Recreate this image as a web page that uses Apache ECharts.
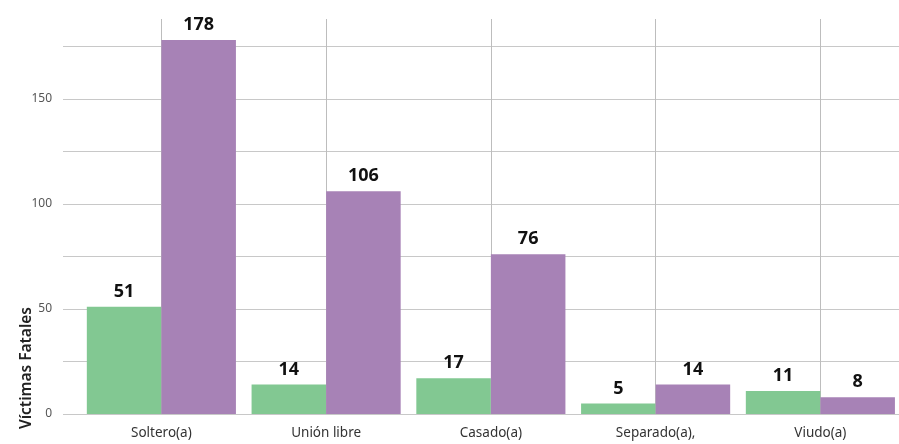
<!DOCTYPE html>
<html><head><meta charset="utf-8">
<script src="https://cdn.jsdelivr.net/npm/echarts@6/dist/echarts.min.js"></script>
<style>html,body{margin:0;padding:0;background:#fff}#c{width:899px;height:444px}</style>
</head><body><div id="c"></div>
<script>
const categories = ['Soltero(a)', 'Unión libre', 'Casado(a)', 'Separado(a),', 'Viudo(a)'];
const seriesA = [51, 14, 17, 5, 11];
const seriesB = [178, 106, 76, 14, 8];
const yMax = 188;
const yInterval = 25;
const yTickLabels = [0, 50, 100, 150];
const yName = 'Víctimas Fatales';

const chart = echarts.init(document.getElementById('c'));
const font = '"Noto Sans", sans-serif';
chart.setOption({
  animation: false,
  grid: [
    {left: 63, right: 0, top: 19, bottom: 30, outerBoundsMode: 'none'},
    {left: 79, width: 823.75, top: 19, bottom: 30, outerBoundsMode: 'none'},
    {left: 161.4, width: 823.75, top: 19, bottom: 30, outerBoundsMode: 'none'}
  ],
  xAxis: [
    {gridIndex: 0, type: 'category', data: categories, show: false},
    {gridIndex: 1, type: 'category', data: categories,
      axisLine: {show: false}, axisTick: {show: false}, splitLine: {show: false},
      axisLabel: {color: '#333', fontSize: 13.5, fontFamily: font, margin: 12}},
    {gridIndex: 2, type: 'category', data: categories,
      axisLine: {show: false}, axisTick: {show: false}, axisLabel: {show: false},
      splitLine: {show: true, lineStyle: {color: '#bdbdbd', width: 1}}}
  ],
  yAxis: [
    {gridIndex: 0, type: 'value', min: 0, max: yMax, interval: yInterval,
      axisLine: {show: false}, axisTick: {show: false},
      splitLine: {show: true, showMaxLine: false, lineStyle: {color: '#c8c8c8', width: 1}},
      axisLabel: {color: '#555', fontSize: 12, fontFamily: font, margin: 11,
        formatter: v => yTickLabels.includes(v) ? String(v) : ''}},
    {gridIndex: 1, type: 'value', min: 0, max: yMax, show: false},
    {gridIndex: 2, type: 'value', min: 0, max: yMax, show: false}
  ],
  graphic: [{
    type: 'text', left: 19, top: 307, rotation: Math.PI / 2,
    style: {text: yName, fill: '#222', font: '600 15.5px "Noto Sans", sans-serif'}
  }],
  series: [
    {type: 'bar', xAxisIndex: 1, yAxisIndex: 1, data: seriesA, barGap: 0, barCategoryGap: '9.5%',
      itemStyle: {color: '#82c892'},
      label: {show: true, position: 'top', distance: 6, color: '#111', fontSize: 18, fontWeight: 'bold', fontFamily: font}},
    {type: 'bar', xAxisIndex: 1, yAxisIndex: 1, data: seriesB, barGap: 0, barCategoryGap: '9.5%',
      itemStyle: {color: '#a782b6'},
      label: {show: true, position: 'top', distance: 6, color: '#111', fontSize: 18, fontWeight: 'bold', fontFamily: font}}
  ]
});
</script></body></html>
